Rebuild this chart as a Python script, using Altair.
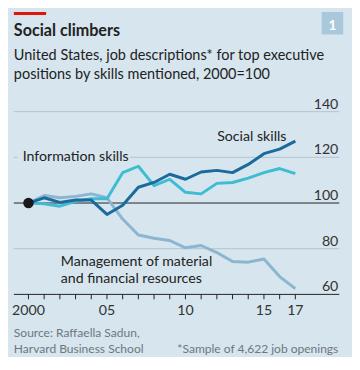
import altair as alt
import pandas as pd

years = list(range(2000, 2018))
social = [100, 102.3, 100.3, 101.3, 101.3, 95.0, 99.0, 106.9, 109.0, 112.6, 110.4, 113.6, 114.3, 113.3, 116.9, 121.6, 123.6, 127.1]
information = [100, 99.7, 98.6, 100.7, 101.9, 101.9, 113.3, 116.1, 107.6, 110.4, 104.7, 104.0, 108.6, 109.0, 110.9, 113.3, 115.1, 112.9]
management = [100, 103.3, 102.3, 102.9, 104.0, 102.3, 93.0, 86.0, 84.6, 83.6, 80.4, 81.4, 78.3, 74.4, 74.1, 75.5, 67.8, 62.5]
series_names = ["Management", "Information skills", "Social skills"]
series_colors = ["#8BB6CF", "#3EBCD2", "#1A6A9C"]
grid_values = [60, 80, 100, 120, 140]
tick_years = years
label_years = [2000, 2005, 2010, 2015, 2017]
label_texts = ["2000", "05", "10", "15", "17"]

BG = "#D6E5EE"
FONT = "Lato"

rows = []
for name, vals in zip(series_names, [management, information, social]):
    for y, v in zip(years, vals):
        rows.append({"year": y, "value": v, "series": name})
df = pd.DataFrame(rows)

xscale = alt.Scale(domain=[1999.07, 2019.8], nice=False, zero=False)
yscale = alt.Scale(domain=[60, 140], nice=False, zero=False)

grid_df = pd.DataFrame({"v": grid_values})
grid = alt.Chart(grid_df).mark_rule(strokeWidth=1).encode(
    y=alt.Y("v:Q", scale=yscale, axis=None),
    color=alt.condition("datum.v == 100 || datum.v == 60", alt.value("#222222"), alt.value("#B3C3CD")),
)

ylabels = alt.Chart(grid_df).mark_text(
    align="right", baseline="alphabetic", font=FONT, fontSize=14.5, color="#333333", dy=-3
).encode(
    y=alt.Y("v:Q", scale=yscale, axis=None),
    x=alt.value(332),
    text=alt.Text("v:Q"),
)

ticks_df = pd.DataFrame({"year": tick_years})
xticks = alt.Chart(ticks_df).mark_rule(color="#222222", strokeWidth=1).encode(
    x=alt.X("year:Q", scale=xscale, axis=None),
    y=alt.value(187), y2=alt.value(192),
)

xlab_df = pd.DataFrame({"year": label_years, "t": label_texts})
xlabels = alt.Chart(xlab_df).mark_text(
    align="center", baseline="alphabetic", font=FONT, fontSize=14.5, color="#333333"
).encode(
    x=alt.X("year:Q", scale=xscale, axis=None),
    y=alt.value(208),
    text="t:N",
)

lines = alt.Chart(df).mark_line(strokeWidth=3, strokeJoin="round").encode(
    x=alt.X("year:Q", scale=xscale, axis=None),
    y=alt.Y("value:Q", scale=yscale, axis=None),
    color=alt.Color("series:N", scale=alt.Scale(domain=series_names, range=series_colors), legend=None),
    order=alt.Order("series:N"),
)

dot = alt.Chart(pd.DataFrame({"year": [years[0]], "value": [social[0]]})).mark_circle(
    size=115, color="#1a1a1a", opacity=1
).encode(x=alt.X("year:Q", scale=xscale, axis=None), y=alt.Y("value:Q", scale=yscale, axis=None))

def txt(s, x, y, size=14.5, color="#222222", weight="normal", align="left", font=FONT):
    return alt.Chart(pd.DataFrame({"t": [s]})).mark_text(
        align=align, baseline="alphabetic", font=font, fontSize=size, color=color, fontWeight=weight
    ).encode(text="t:N", x=alt.value(x), y=alt.value(y))

mask = alt.Chart(pd.DataFrame({"a": [0]})).mark_rect(color=BG).encode(
    x=alt.value(4), x2=alt.value(119), y=alt.value(43), y2=alt.value(49)
)
red = alt.Chart(pd.DataFrame({"a": [0]})).mark_rect(color="#E3120B").encode(
    x=alt.value(0), x2=alt.value(33), y=alt.value(-102), y2=alt.value(-99)
)
box = alt.Chart(pd.DataFrame({"a": [0]})).mark_rect(color="#A9C8DB").encode(
    x=alt.value(315), x2=alt.value(337), y=alt.value(-102), y2=alt.value(-79)
)

layers = [
    red, box,
    txt("1", 326, -84, size=14, color="#FFFFFF", weight="bold", align="center"),
    txt("Social climbers", 0, -77, size=16.5, weight="bold"),
    txt("United States, job descriptions* for top executive", 0, -53, size=14.8, color="#222222"),
    txt("positions by skills mentioned, 2000=100", 0, -33, size=14.8, color="#222222"),
    grid, ylabels, xticks, xlabels, lines, dot, mask,
    txt("Social skills", 208, 30),
    txt("Information skills", 9, 51),
    txt("Management of material", 48, 158),
    txt("and financial resources", 48, 175),
    txt("Source: Raffaella Sadun,", 0, 231, size=12.3, color="#6E7780"),
    txt("Harvard Business School", 0, 247, size=12.3, color="#6E7780"),
    txt("*Sample of 4,622 job openings", 332, 247, size=12.3, color="#6E7780", align="right"),
]

chart = alt.layer(*layers).properties(
    width=333, height=187,
    autosize=alt.AutoSizeParams(type="none"),
    padding={"left": 6, "top": 102, "right": 13, "bottom": 60},
    background=BG,
).configure_view(stroke=None)

chart.save("out.html", embed_options={"renderer": "svg", "actions": False})
